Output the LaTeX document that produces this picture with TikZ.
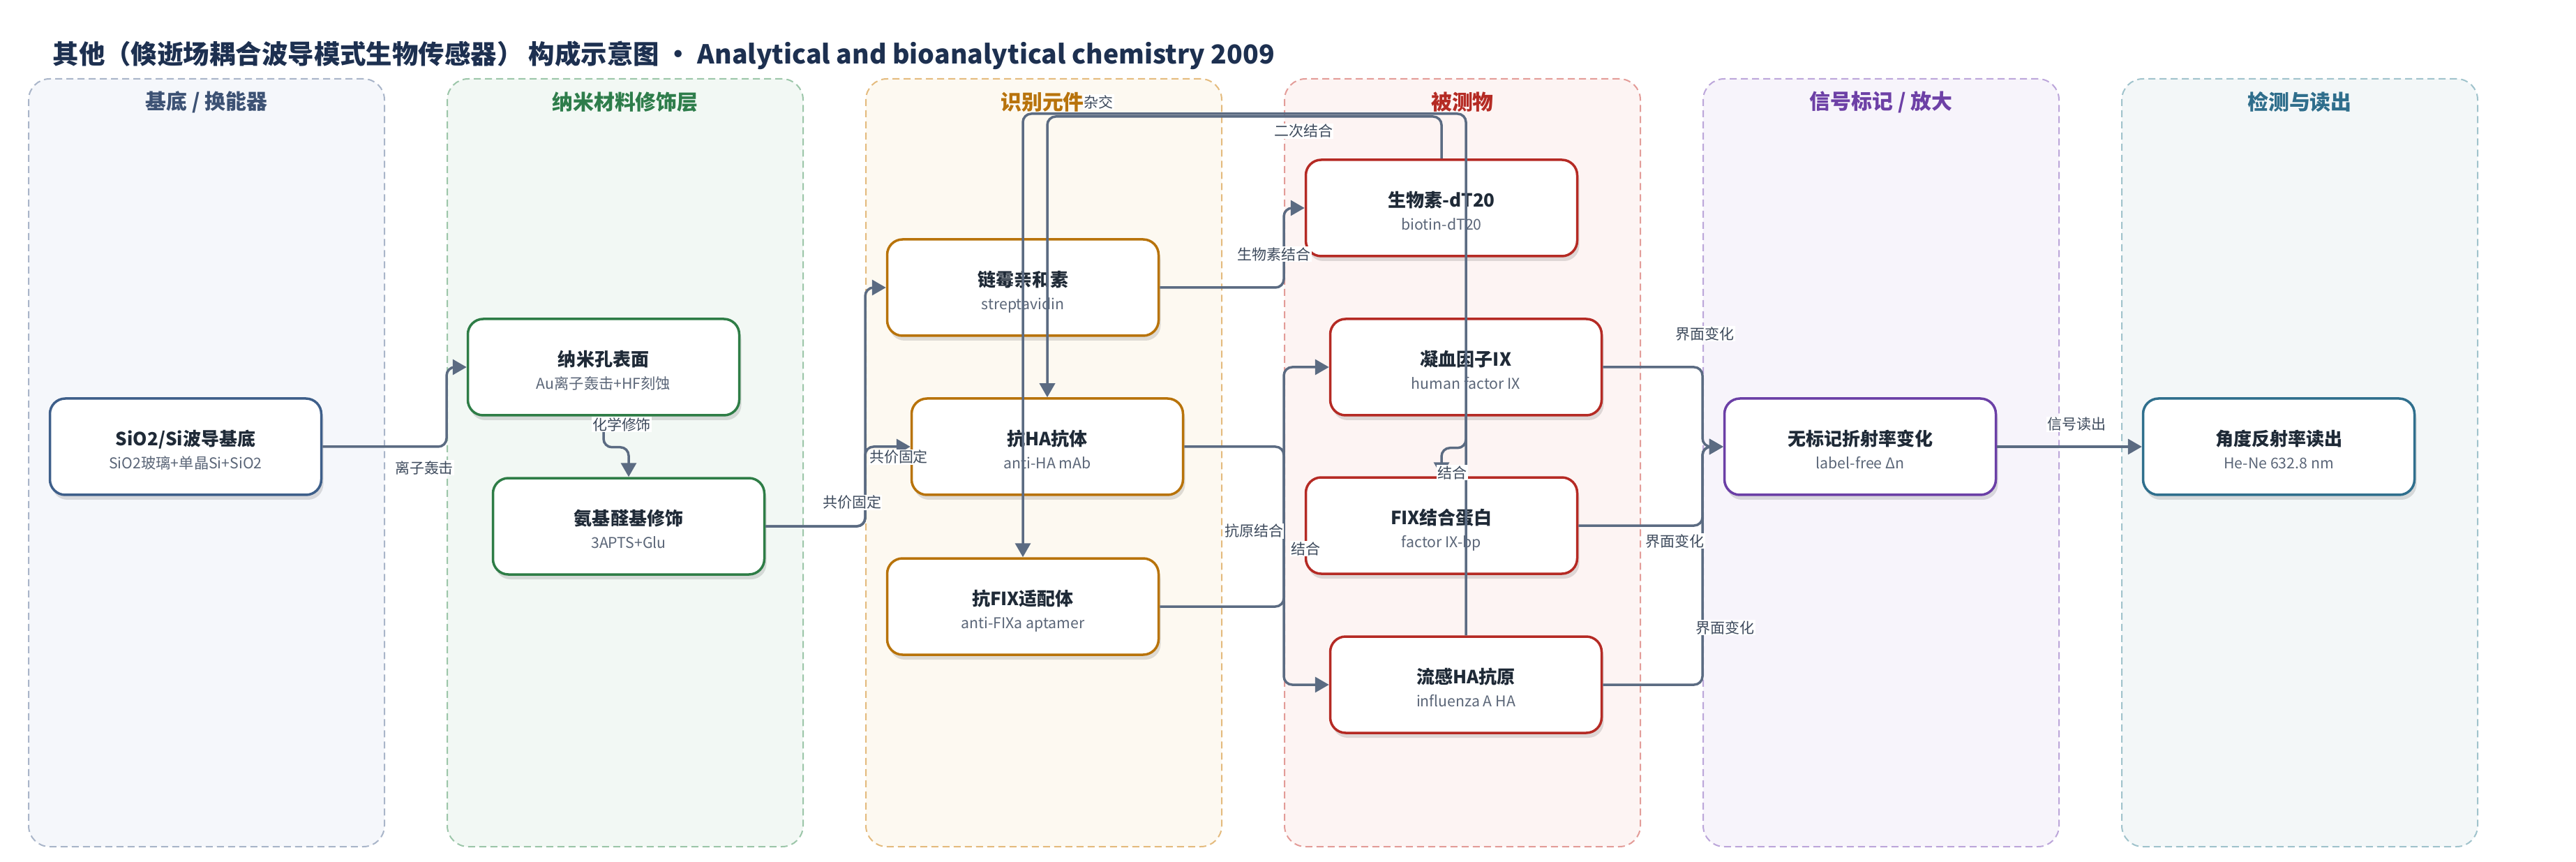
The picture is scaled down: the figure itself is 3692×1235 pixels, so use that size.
\documentclass[tikz,border=0pt]{standalone}
\usepackage{fontspec}
\setmainfont{Noto Sans CJK SC}
\usetikzlibrary{positioning,shadows,arrows.meta}

\definecolor{titleink}{HTML}{1D3050}
\definecolor{lineink}{HTML}{5B6B82}
\definecolor{labelink}{HTML}{3D4A5C}
\definecolor{textdark}{HTML}{1F2A37}
\definecolor{textsub}{HTML}{5B6678}
% lanes
\definecolor{baseFill}{HTML}{F5F7FB}\definecolor{baseDash}{HTML}{A9B5C9}\definecolor{baseHead}{HTML}{3D5274}\definecolor{baseEdge}{HTML}{3E5F8A}
\definecolor{nanoFill}{HTML}{F2F8F4}\definecolor{nanoDash}{HTML}{9CC6A9}\definecolor{nanoHead}{HTML}{2E7D4B}\definecolor{nanoEdge}{HTML}{2E7D46}
\definecolor{recFill}{HTML}{FDF9F1}\definecolor{recDash}{HTML}{E4BB7E}\definecolor{recHead}{HTML}{B8730C}\definecolor{recEdge}{HTML}{B8730A}
\definecolor{anaFill}{HTML}{FDF4F3}\definecolor{anaDash}{HTML}{E39C98}\definecolor{anaHead}{HTML}{B52B24}\definecolor{anaEdge}{HTML}{B52A24}
\definecolor{sigFill}{HTML}{F7F4FB}\definecolor{sigDash}{HTML}{BCA6DA}\definecolor{sigHead}{HTML}{6D40A6}\definecolor{sigEdge}{HTML}{6B3FA6}
\definecolor{detFill}{HTML}{F3F7F8}\definecolor{detDash}{HTML}{A0C3CC}\definecolor{detHead}{HTML}{2F6E8C}\definecolor{detEdge}{HTML}{2F6F8D}

\begin{document}
\begin{tikzpicture}[x=0.1mm, y=-0.1mm,
    lane/.style={dash pattern=on 1mm off 0.6mm, line width=0.2mm, rounded corners=3mm, minimum width=51mm, minimum height=110mm, inner sep=0},
    lanehead/.style={font=\bfseries\fontsize{8.5}{10}\selectfont, inner sep=0},
    stage/.style={fill=white, line width=0.35mm, rounded corners=2.2mm, minimum width=38.9mm, minimum height=13.8mm, inner sep=0,
        drop shadow={shadow xshift=0.3mm, shadow yshift=-0.7mm, fill=black, opacity=0.12}},
    stagetitle/.style={font=\bfseries\fontsize{7.4}{9}\selectfont, text=textdark, inner sep=0, text height=0.8em, text depth=0.2em},
    stagesub/.style={font=\fontsize{6.05}{7}\selectfont, text=textsub, inner sep=0, text height=0.8em, text depth=0.2em},
    conn/.style={draw=lineink, line width=0.35mm, rounded corners=1.2mm, -{Triangle[length=2mm, width=2.2mm]}},
    edgelabel/.style={font=\fontsize{5.97}{7}\selectfont, text=labelink, fill=white, inner sep=0.15mm}
  ]
  \useasboundingbox (0,0) rectangle (3692,1235);

  % Title
  \node[anchor=west, inner sep=0, text=titleink, font=\bfseries\fontsize{10.65}{13}\selectfont] (title) at (75,79) {其他（倏逝场耦合波导模式生物传感器） 构成示意图 · Analytical and bioanalytical chemistry 2009};

  % Lanes
  \node[lane, draw=baseDash, fill=baseFill] (baselane) at (296,663) {};
  \node[lane, draw=nanoDash, fill=nanoFill] (nanolane) at (896,663) {};
  \node[lane, draw=recDash, fill=recFill] (reclane) at (1496,663) {};
  \node[lane, draw=anaDash, fill=anaFill] (analane) at (2096,663) {};
  \node[lane, draw=sigDash, fill=sigFill] (siglane) at (2696,663) {};
  \node[lane, draw=detDash, fill=detFill] (detlane) at (3296,663) {};
  \node[lanehead, text=baseHead] (baselane-h) at (296,146) {基底 / 换能器};
  \node[lanehead, text=nanoHead] (nanolane-h) at (896,146) {纳米材料修饰层};
  \node[lanehead, text=recHead] (reclane-h) at (1494,146) {识别元件};
  \node[lanehead, text=anaHead] (analane-h) at (2096,146) {被测物};
  \node[lanehead, text=sigHead] (siglane-h) at (2696,146) {信号标记 / 放大};
  \node[lanehead, text=detHead] (detlane-h) at (3296,146) {检测与读出};

  % Substrate
  \node[stage, draw=baseEdge] (sio2) at (266,640) {};
  \node[stagetitle] (sio2-t) at ([yshift=1.2mm]sio2.center) {SiO2/Si波导基底};
  \node[stagesub] (sio2-s) at ([yshift=-2.1mm]sio2.center) {SiO2玻璃+单晶Si+SiO2};
  % Nano layer
  \node[stage, draw=nanoEdge] (nano) at (865,526) {};
  \node[stagetitle] (nano-t) at ([yshift=1.2mm]nano.center) {纳米孔表面};
  \node[stagesub] (nano-s) at ([yshift=-2.1mm]nano.center) {Au离子轰击+HF刻蚀};
  \node[stage, draw=nanoEdge] (amino) at (901,754) {};
  \node[stagetitle] (amino-t) at ([yshift=1.2mm]amino.center) {氨基醛基修饰};
  \node[stagesub] (amino-s) at ([yshift=-2.1mm]amino.center) {3APTS+Glu};
  % Recognition
  \node[stage, draw=recEdge] (strep) at (1466,412) {};
  \node[stagetitle] (strep-t) at ([yshift=1.2mm]strep.center) {链霉亲和素};
  \node[stagesub] (strep-s) at ([yshift=-2.1mm]strep.center) {streptavidin};
  \node[stage, draw=recEdge] (antiha) at (1501,640) {};
  \node[stagetitle] (antiha-t) at ([yshift=1.2mm]antiha.center) {抗HA抗体};
  \node[stagesub] (antiha-s) at ([yshift=-2.1mm]antiha.center) {anti-HA mAb};
  \node[stage, draw=recEdge] (aptamer) at (1466,869) {};
  \node[stagetitle] (aptamer-t) at ([yshift=1.2mm]aptamer.center) {抗FIX适配体};
  \node[stagesub] (aptamer-s) at ([yshift=-2.1mm]aptamer.center) {anti-FIXa aptamer};
  % Analytes
  \node[stage, draw=anaEdge] (biotin) at (2066,298) {};
  \node[stagetitle] (biotin-t) at ([yshift=1.2mm]biotin.center) {生物素-dT20};
  \node[stagesub] (biotin-s) at ([yshift=-2.1mm]biotin.center) {biotin-dT20};
  \node[stage, draw=anaEdge] (fix) at (2101,526) {};
  \node[stagetitle] (fix-t) at ([yshift=1.2mm]fix.center) {凝血因子IX};
  \node[stagesub] (fix-s) at ([yshift=-2.1mm]fix.center) {human factor IX};
  \node[stage, draw=anaEdge] (fixbp) at (2066,753) {};
  \node[stagetitle] (fixbp-t) at ([yshift=1.2mm]fixbp.center) {FIX结合蛋白};
  \node[stagesub] (fixbp-s) at ([yshift=-2.1mm]fixbp.center) {factor IX-bp};
  \node[stage, draw=anaEdge] (flu) at (2101,981) {};
  \node[stagetitle] (flu-t) at ([yshift=1.2mm]flu.center) {流感HA抗原};
  \node[stagesub] (flu-s) at ([yshift=-2.1mm]flu.center) {influenza A HA};
  % Signal
  \node[stage, draw=sigEdge] (labelfree) at (2666,640) {};
  \node[stagetitle] (labelfree-t) at ([yshift=1.2mm]labelfree.center) {无标记折射率变化};
  \node[stagesub] (labelfree-s) at ([yshift=-2.1mm]labelfree.center) {label-free Δn};
  % Readout
  \node[stage, draw=detEdge] (readout) at (3266,640) {};
  \node[stagetitle] (readout-t) at ([yshift=1.2mm]readout.center) {角度反射率读出};
  \node[stagesub] (readout-s) at ([yshift=-2.1mm]readout.center) {He-Ne 632.8 nm};

  % Connectors
  \coordinate (hybtop) at (0,163);
  \coordinate (bindtop) at (0,167);
  \draw[conn] (sio2.east) -- (sio2.east -| nanolane.west) |- (nano.west);
  \draw[conn] (nano.south) -- ++(0,44) -| (amino.north);
  \draw[conn] (amino.east) -- (amino.east -| reclane.west) |- (strep.west);
  \draw[conn] (amino.east) -- (amino.east -| reclane.west) |- (antiha.west);
  \draw[conn] (strep.east) -- (strep.east -| analane.west) |- (biotin.west);
  \draw[conn] (antiha.east) -- (antiha.east -| analane.west) |- (flu.west);
  \draw[conn] (aptamer.east) -- (aptamer.east -| analane.west) |- (fix.west);
  \draw[conn] (fix.south) -- ++(0,45) -| (fixbp.north);
  \draw[conn] (biotin.north) -- (biotin.north |- bindtop) -| (antiha.north);
  \draw[conn] (flu.north) -- (flu.north |- hybtop) -| (aptamer.north);
  \draw[conn] (fix.east) -- (fix.east -| siglane.west) |- (labelfree.west);
  \draw[conn] (fixbp.east) -- (fixbp.east -| siglane.west) |- (labelfree.west);
  \draw[conn] (flu.east) -- (flu.east -| siglane.west) |- (labelfree.west);
  \draw[conn] (labelfree.east) -- (readout.west);

  % Connector labels
  \node[edgelabel] (ion-l) at (608,670) {离子轰击};
  \node[edgelabel] (chem-l) at (891,608) {化学修饰};
  \node[edgelabel] (cov-l1) at (1221,720) {共价固定};
  \node[edgelabel] (cov-l2) at (1288,655) {共价固定};
  \node[edgelabel] (biot-l) at (1826,364) {生物素结合};
  \node[edgelabel] (hyb-l) at (1574,146) {杂交};
  \node[edgelabel] (sec-l) at (1868,188) {二次结合};
  \node[edgelabel] (ag-l) at (1797,761) {抗原结合};
  \node[edgelabel] (bind-l1) at (1871,786) {结合};
  \node[edgelabel] (bind-l2) at (2081,677) {结合};
  \node[edgelabel] (if-l1) at (2443,478) {界面变化};
  \node[edgelabel] (if-l2) at (2400,775) {界面变化};
  \node[edgelabel] (if-l3) at (2472,899) {界面变化};
  \node[edgelabel] (sig-l) at (2976,608) {信号读出};
\end{tikzpicture}
\end{document}
